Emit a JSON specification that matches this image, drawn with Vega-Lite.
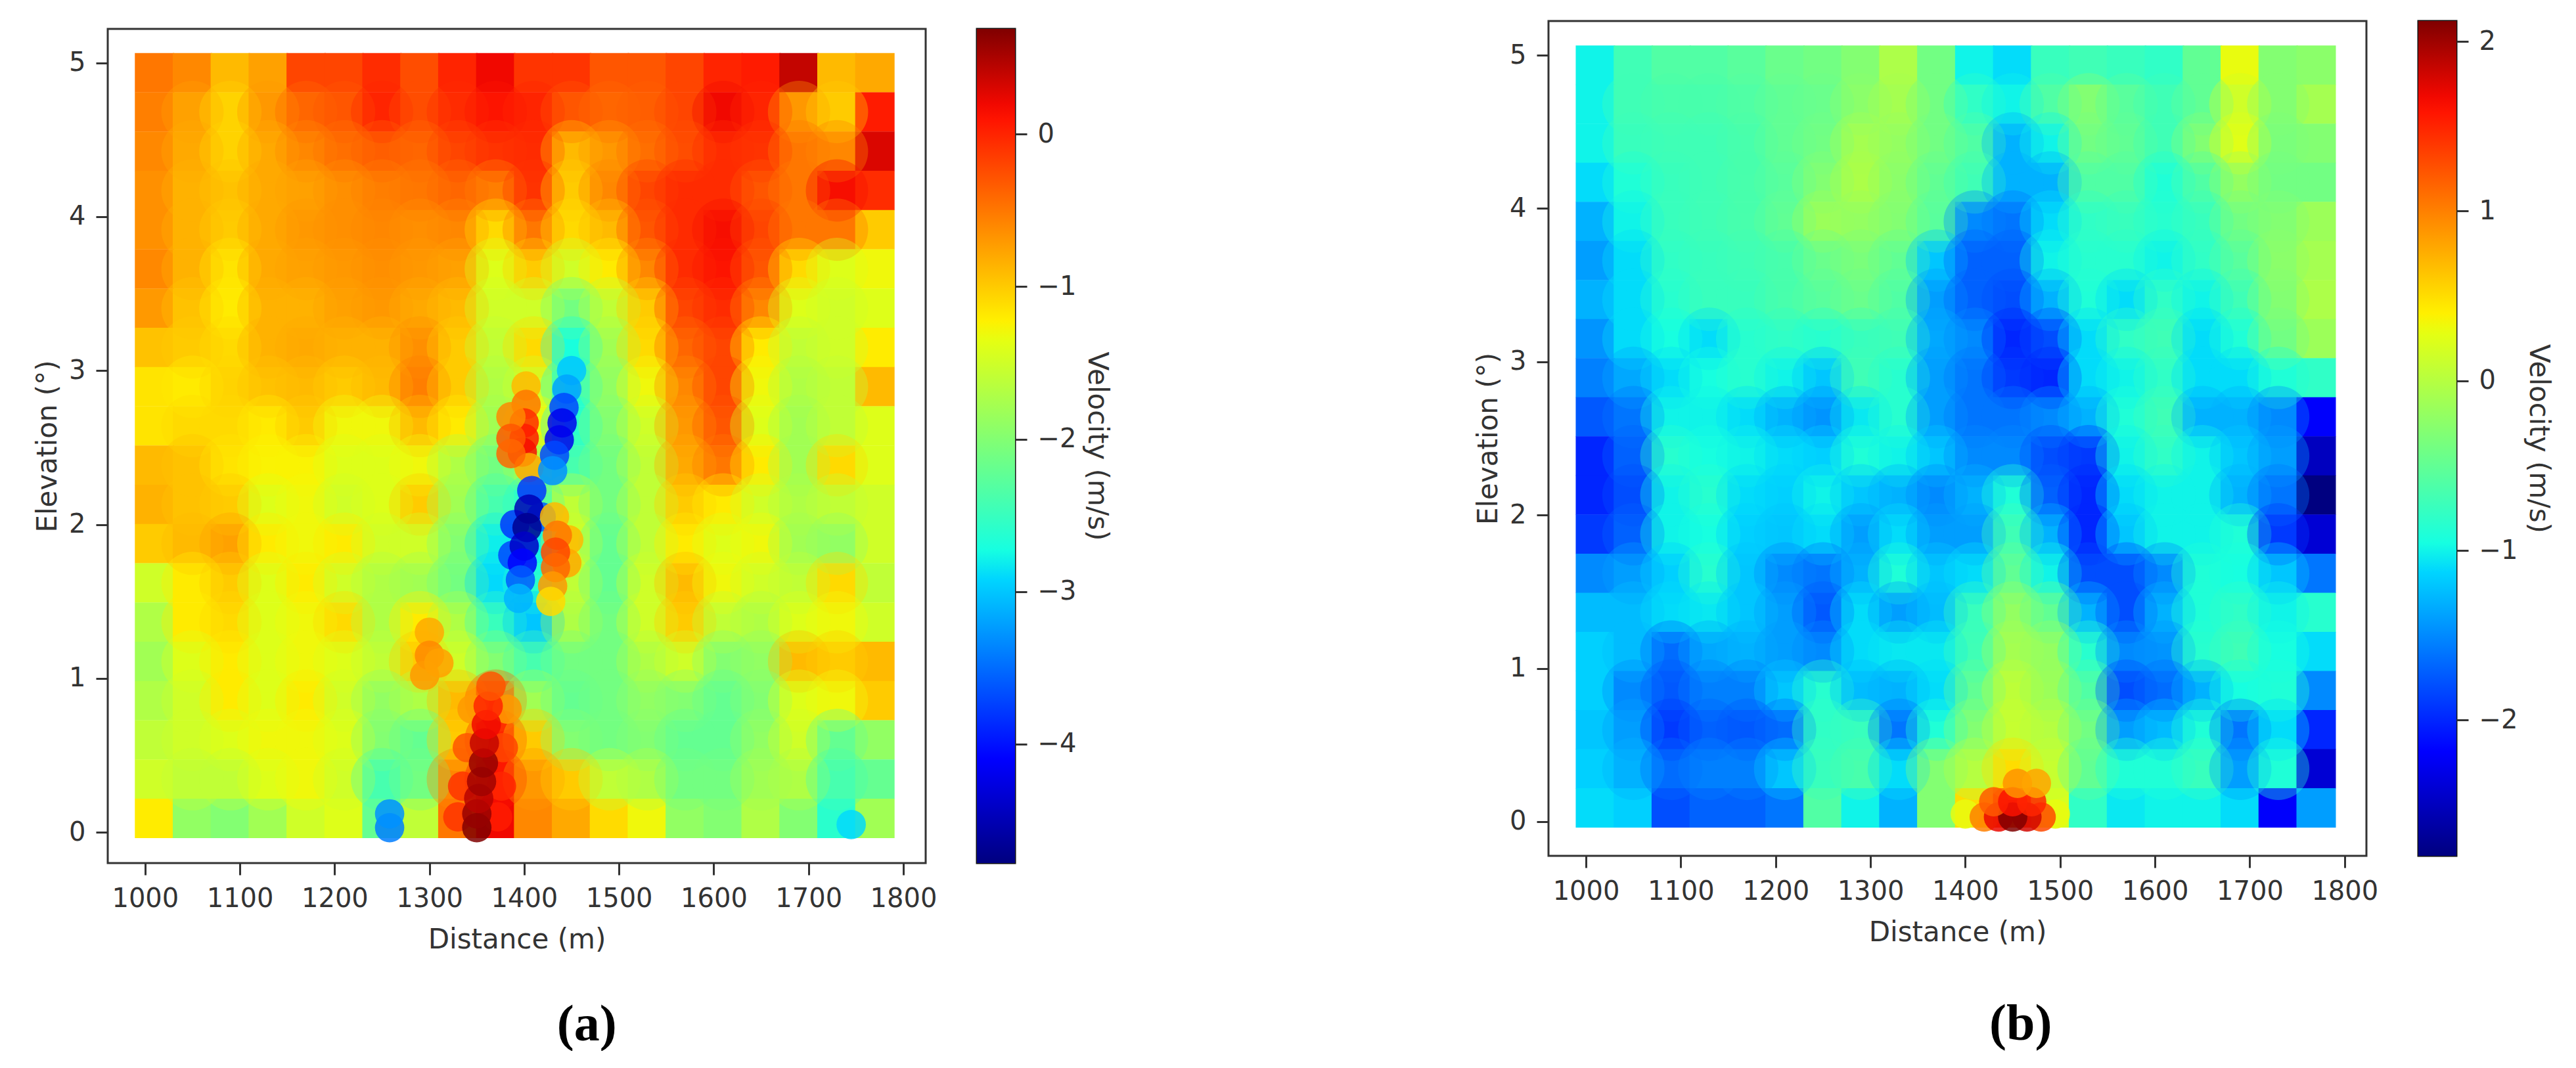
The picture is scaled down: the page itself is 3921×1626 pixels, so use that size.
{"$schema":"https://vega.github.io/schema/vega-lite/v6.json","background":"white","padding":{"left":50,"top":29,"right":0,"bottom":0},"autosize":{"type":"pad"},
"config":{"font":"DejaVu Sans","axis":{"grid":false,"domain":false,"tickColor":"#333333","tickWidth":3,"tickSize":18,"labelColor":"#333333","titleColor":"#333333","labelFontSize":40,"titleFontSize":42,"titleFontWeight":"normal","labelPadding":16,"labelFont":"DejaVu Sans","titleFont":"DejaVu Sans"},"view":{"stroke":"#333333","strokeWidth":3},"concat":{"spacing":57}},
"resolve":{"scale":{"color":"independent"}},
"datasets":{
"a":[
{"d":1010,"e":4.935,"v":-0.5},{"d":1050,"e":4.935,"v":-0.6},{"d":1090,"e":4.935,"v":-0.9},{"d":1130,"e":4.935,"v":-0.75},{"d":1170,"e":4.935,"v":-0.2},{"d":1210,"e":4.935,"v":-0.2},{"d":1250,"e":4.935,"v":-0.05},{"d":1290,"e":4.935,"v":-0.25},{"d":1330,"e":4.935,"v":0},{"d":1370,"e":4.935,"v":0.2},{"d":1410,"e":4.935,"v":-0.1},{"d":1450,"e":4.935,"v":-0.1},{"d":1490,"e":4.935,"v":-0.3},{"d":1530,"e":4.935,"v":-0.3},{"d":1570,"e":4.935,"v":-0.2},{"d":1610,"e":4.935,"v":0},{"d":1650,"e":4.935,"v":0.05},{"d":1690,"e":4.935,"v":0.4},{"d":1730,"e":4.935,"v":-0.9},{"d":1770,"e":4.935,"v":-0.8},
{"d":1010,"e":4.68,"v":-0.55},{"d":1050,"e":4.68,"v":-0.75},{"d":1090,"e":4.68,"v":-1.05},{"d":1130,"e":4.68,"v":-0.7},{"d":1170,"e":4.68,"v":-0.4},{"d":1210,"e":4.68,"v":-0.3},{"d":1250,"e":4.68,"v":0},{"d":1290,"e":4.68,"v":-0.25},{"d":1330,"e":4.68,"v":-0.05},{"d":1370,"e":4.68,"v":0.1},{"d":1410,"e":4.68,"v":0},{"d":1450,"e":4.68,"v":-0.3},{"d":1490,"e":4.68,"v":-0.4},{"d":1530,"e":4.68,"v":-0.35},{"d":1570,"e":4.68,"v":-0.2},{"d":1610,"e":4.68,"v":0.2},{"d":1650,"e":4.68,"v":0},{"d":1690,"e":4.68,"v":-0.7},{"d":1730,"e":4.68,"v":-1},{"d":1770,"e":4.68,"v":0.05},
{"d":1010,"e":4.425,"v":-0.6},{"d":1050,"e":4.425,"v":-0.8},{"d":1090,"e":4.425,"v":-1.05},{"d":1130,"e":4.425,"v":-0.8},{"d":1170,"e":4.425,"v":-0.6},{"d":1210,"e":4.425,"v":-0.45},{"d":1250,"e":4.425,"v":-0.35},{"d":1290,"e":4.425,"v":-0.4},{"d":1330,"e":4.425,"v":-0.2},{"d":1370,"e":4.425,"v":-0.1},{"d":1410,"e":4.425,"v":-0.05},{"d":1450,"e":4.425,"v":-0.9},{"d":1490,"e":4.425,"v":-0.7},{"d":1530,"e":4.425,"v":-0.45},{"d":1570,"e":4.425,"v":-0.25},{"d":1610,"e":4.425,"v":-0.05},{"d":1650,"e":4.425,"v":-0.1},{"d":1690,"e":4.425,"v":-0.5},{"d":1730,"e":4.425,"v":-0.6},{"d":1770,"e":4.425,"v":0.3},
{"d":1010,"e":4.17,"v":-0.65},{"d":1050,"e":4.17,"v":-0.85},{"d":1090,"e":4.17,"v":-0.95},{"d":1130,"e":4.17,"v":-0.8},{"d":1170,"e":4.17,"v":-0.75},{"d":1210,"e":4.17,"v":-0.65},{"d":1250,"e":4.17,"v":-0.55},{"d":1290,"e":4.17,"v":-0.5},{"d":1330,"e":4.17,"v":-0.4},{"d":1370,"e":4.17,"v":-0.55},{"d":1410,"e":4.17,"v":-0.1},{"d":1450,"e":4.17,"v":-1},{"d":1490,"e":4.17,"v":-0.6},{"d":1530,"e":4.17,"v":-0.2},{"d":1570,"e":4.17,"v":-0.05},{"d":1610,"e":4.17,"v":-0.05},{"d":1650,"e":4.17,"v":-0.3},{"d":1690,"e":4.17,"v":-0.5},{"d":1730,"e":4.17,"v":0.15},{"d":1770,"e":4.17,"v":-0.05},
{"d":1010,"e":3.915,"v":-0.65},{"d":1050,"e":3.915,"v":-0.85},{"d":1090,"e":3.915,"v":-1},{"d":1130,"e":3.915,"v":-0.8},{"d":1170,"e":3.915,"v":-0.7},{"d":1210,"e":3.915,"v":-0.65},{"d":1250,"e":3.915,"v":-0.6},{"d":1290,"e":3.915,"v":-0.65},{"d":1330,"e":3.915,"v":-0.6},{"d":1370,"e":3.915,"v":-1.1},{"d":1410,"e":3.915,"v":-0.5},{"d":1450,"e":3.915,"v":-1.1},{"d":1490,"e":3.915,"v":-0.9},{"d":1530,"e":3.915,"v":-0.3},{"d":1570,"e":3.915,"v":-0.05},{"d":1610,"e":3.915,"v":0.15},{"d":1650,"e":3.915,"v":-0.2},{"d":1690,"e":3.915,"v":-0.5},{"d":1730,"e":3.915,"v":-0.5},{"d":1770,"e":3.915,"v":-1},
{"d":1010,"e":3.66,"v":-0.6},{"d":1050,"e":3.66,"v":-0.85},{"d":1090,"e":3.66,"v":-1.15},{"d":1130,"e":3.66,"v":-0.8},{"d":1170,"e":3.66,"v":-0.75},{"d":1210,"e":3.66,"v":-0.7},{"d":1250,"e":3.66,"v":-0.65},{"d":1290,"e":3.66,"v":-0.7},{"d":1330,"e":3.66,"v":-0.75},{"d":1370,"e":3.66,"v":-1.4},{"d":1410,"e":3.66,"v":-1},{"d":1450,"e":3.66,"v":-1.5},{"d":1490,"e":3.66,"v":-1.2},{"d":1530,"e":3.66,"v":-0.6},{"d":1570,"e":3.66,"v":-0.05},{"d":1610,"e":3.66,"v":0.1},{"d":1650,"e":3.66,"v":-0.3},{"d":1690,"e":3.66,"v":-1.1},{"d":1730,"e":3.66,"v":-1.4},{"d":1770,"e":3.66,"v":-1.3},
{"d":1010,"e":3.405,"v":-0.7},{"d":1050,"e":3.405,"v":-0.95},{"d":1090,"e":3.405,"v":-1.2},{"d":1130,"e":3.405,"v":-0.85},{"d":1170,"e":3.405,"v":-0.85},{"d":1210,"e":3.405,"v":-0.75},{"d":1250,"e":3.405,"v":-0.7},{"d":1290,"e":3.405,"v":-0.8},{"d":1330,"e":3.405,"v":-0.9},{"d":1370,"e":3.405,"v":-1.5},{"d":1410,"e":3.405,"v":-1.5},{"d":1450,"e":3.405,"v":-2.1},{"d":1490,"e":3.405,"v":-1.6},{"d":1530,"e":3.405,"v":-1},{"d":1570,"e":3.405,"v":-0.2},{"d":1610,"e":3.405,"v":-0.05},{"d":1650,"e":3.405,"v":-0.6},{"d":1690,"e":3.405,"v":-1.4},{"d":1730,"e":3.405,"v":-1.5},{"d":1770,"e":3.405,"v":-1.4},
{"d":1010,"e":3.15,"v":-0.95},{"d":1050,"e":3.15,"v":-1},{"d":1090,"e":3.15,"v":-1.1},{"d":1130,"e":3.15,"v":-0.85},{"d":1170,"e":3.15,"v":-0.8},{"d":1210,"e":3.15,"v":-0.85},{"d":1250,"e":3.15,"v":-0.85},{"d":1290,"e":3.15,"v":-0.65},{"d":1330,"e":3.15,"v":-1},{"d":1370,"e":3.15,"v":-1.6},{"d":1410,"e":3.15,"v":-1.1},{"d":1450,"e":3.15,"v":-2.7},{"d":1490,"e":3.15,"v":-1.8},{"d":1530,"e":3.15,"v":-1.1},{"d":1570,"e":3.15,"v":-0.4},{"d":1610,"e":3.15,"v":-0.2},{"d":1650,"e":3.15,"v":-1.2},{"d":1690,"e":3.15,"v":-1.6},{"d":1730,"e":3.15,"v":-1.5},{"d":1770,"e":3.15,"v":-1.2},
{"d":1010,"e":2.895,"v":-1.15},{"d":1050,"e":2.895,"v":-1.2},{"d":1090,"e":2.895,"v":-1.05},{"d":1130,"e":2.895,"v":-0.95},{"d":1170,"e":2.895,"v":-0.9},{"d":1210,"e":2.895,"v":-1},{"d":1250,"e":2.895,"v":-0.9},{"d":1290,"e":2.895,"v":-0.55},{"d":1330,"e":2.895,"v":-1},{"d":1370,"e":2.895,"v":-1.7},{"d":1410,"e":2.895,"v":-1.5},{"d":1450,"e":2.895,"v":-2.6},{"d":1490,"e":2.895,"v":-1.9},{"d":1530,"e":2.895,"v":-1.3},{"d":1570,"e":2.895,"v":-0.6},{"d":1610,"e":2.895,"v":-0.2},{"d":1650,"e":2.895,"v":-1.3},{"d":1690,"e":2.895,"v":-1.7},{"d":1730,"e":2.895,"v":-1.6},{"d":1770,"e":2.895,"v":-0.9},
{"d":1010,"e":2.64,"v":-1.15},{"d":1050,"e":2.64,"v":-1.1},{"d":1090,"e":2.64,"v":-1.1},{"d":1130,"e":2.64,"v":-1.2},{"d":1170,"e":2.64,"v":-1},{"d":1210,"e":2.64,"v":-1.3},{"d":1250,"e":2.64,"v":-1.3},{"d":1290,"e":2.64,"v":-0.9},{"d":1330,"e":2.64,"v":-1.2},{"d":1370,"e":2.64,"v":-1.8},{"d":1410,"e":2.64,"v":-1.3},{"d":1450,"e":2.64,"v":-2.6},{"d":1490,"e":2.64,"v":-2},{"d":1530,"e":2.64,"v":-1.5},{"d":1570,"e":2.64,"v":-0.7},{"d":1610,"e":2.64,"v":-0.3},{"d":1650,"e":2.64,"v":-1.4},{"d":1690,"e":2.64,"v":-1.8},{"d":1730,"e":2.64,"v":-1.6},{"d":1770,"e":2.64,"v":-1.4},
{"d":1010,"e":2.385,"v":-0.9},{"d":1050,"e":2.385,"v":-0.95},{"d":1090,"e":2.385,"v":-1.15},{"d":1130,"e":2.385,"v":-1.25},{"d":1170,"e":2.385,"v":-1.25},{"d":1210,"e":2.385,"v":-1.4},{"d":1250,"e":2.385,"v":-1.4},{"d":1290,"e":2.385,"v":-1.3},{"d":1330,"e":2.385,"v":-1.7},{"d":1370,"e":2.385,"v":-2.1},{"d":1410,"e":2.385,"v":-1.8},{"d":1450,"e":2.385,"v":-2.4},{"d":1490,"e":2.385,"v":-2.1},{"d":1530,"e":2.385,"v":-1.6},{"d":1570,"e":2.385,"v":-0.8},{"d":1610,"e":2.385,"v":-0.5},{"d":1650,"e":2.385,"v":-1.2},{"d":1690,"e":2.385,"v":-1.8},{"d":1730,"e":2.385,"v":-1.1},{"d":1770,"e":2.385,"v":-1.4},
{"d":1010,"e":2.13,"v":-0.85},{"d":1050,"e":2.13,"v":-0.95},{"d":1090,"e":2.13,"v":-1},{"d":1130,"e":2.13,"v":-1.4},{"d":1170,"e":2.13,"v":-1.3},{"d":1210,"e":2.13,"v":-1.5},{"d":1250,"e":2.13,"v":-1.4},{"d":1290,"e":2.13,"v":-1},{"d":1330,"e":2.13,"v":-1.8},{"d":1370,"e":2.13,"v":-2.4},{"d":1410,"e":2.13,"v":-2.6},{"d":1450,"e":2.13,"v":-1.6},{"d":1490,"e":2.13,"v":-2.1},{"d":1530,"e":2.13,"v":-1.6},{"d":1570,"e":2.13,"v":-1},{"d":1610,"e":2.13,"v":-1.2},{"d":1650,"e":2.13,"v":-1.5},{"d":1690,"e":2.13,"v":-1.7},{"d":1730,"e":2.13,"v":-1.6},{"d":1770,"e":2.13,"v":-1.5},
{"d":1010,"e":1.875,"v":-1},{"d":1050,"e":1.875,"v":-0.9},{"d":1090,"e":1.875,"v":-0.75},{"d":1130,"e":1.875,"v":-1.2},{"d":1170,"e":1.875,"v":-1.3},{"d":1210,"e":1.875,"v":-1.2},{"d":1250,"e":1.875,"v":-1.5},{"d":1290,"e":1.875,"v":-1.5},{"d":1330,"e":1.875,"v":-2},{"d":1370,"e":1.875,"v":-2.8},{"d":1410,"e":1.875,"v":-2.8},{"d":1450,"e":1.875,"v":-1.5},{"d":1490,"e":1.875,"v":-2.2},{"d":1530,"e":1.875,"v":-1.6},{"d":1570,"e":1.875,"v":-1.2},{"d":1610,"e":1.875,"v":-1.4},{"d":1650,"e":1.875,"v":-1.3},{"d":1690,"e":1.875,"v":-1.8},{"d":1730,"e":1.875,"v":-1.9},{"d":1770,"e":1.875,"v":-1.5},
{"d":1010,"e":1.62,"v":-1.5},{"d":1050,"e":1.62,"v":-1.2},{"d":1090,"e":1.62,"v":-1},{"d":1130,"e":1.62,"v":-1.4},{"d":1170,"e":1.62,"v":-1.2},{"d":1210,"e":1.62,"v":-1.5},{"d":1250,"e":1.62,"v":-1.7},{"d":1290,"e":1.62,"v":-1.8},{"d":1330,"e":1.62,"v":-2.1},{"d":1370,"e":1.62,"v":-2.9},{"d":1410,"e":1.62,"v":-2.6},{"d":1450,"e":1.62,"v":-1.6},{"d":1490,"e":1.62,"v":-2.2},{"d":1530,"e":1.62,"v":-1.5},{"d":1570,"e":1.62,"v":-0.9},{"d":1610,"e":1.62,"v":-1.3},{"d":1650,"e":1.62,"v":-1.5},{"d":1690,"e":1.62,"v":-1.6},{"d":1730,"e":1.62,"v":-1.1},{"d":1770,"e":1.62,"v":-1.6},
{"d":1010,"e":1.365,"v":-1.7},{"d":1050,"e":1.365,"v":-1.2},{"d":1090,"e":1.365,"v":-1.1},{"d":1130,"e":1.365,"v":-1.4},{"d":1170,"e":1.365,"v":-1.3},{"d":1210,"e":1.365,"v":-1.1},{"d":1250,"e":1.365,"v":-1.7},{"d":1290,"e":1.365,"v":-1.2},{"d":1330,"e":1.365,"v":-1.7},{"d":1370,"e":1.365,"v":-2.5},{"d":1410,"e":1.365,"v":-3},{"d":1450,"e":1.365,"v":-1.7},{"d":1490,"e":1.365,"v":-2.1},{"d":1530,"e":1.365,"v":-1.5},{"d":1570,"e":1.365,"v":-1},{"d":1610,"e":1.365,"v":-1.6},{"d":1650,"e":1.365,"v":-1.7},{"d":1690,"e":1.365,"v":-1.4},{"d":1730,"e":1.365,"v":-1.3},{"d":1770,"e":1.365,"v":-1.5},
{"d":1010,"e":1.11,"v":-1.8},{"d":1050,"e":1.11,"v":-1.4},{"d":1090,"e":1.11,"v":-1.2},{"d":1130,"e":1.11,"v":-1.4},{"d":1170,"e":1.11,"v":-1.3},{"d":1210,"e":1.11,"v":-1.4},{"d":1250,"e":1.11,"v":-1.6},{"d":1290,"e":1.11,"v":-1},{"d":1330,"e":1.11,"v":-1.5},{"d":1370,"e":1.11,"v":-2},{"d":1410,"e":1.11,"v":-2.4},{"d":1450,"e":1.11,"v":-2.1},{"d":1490,"e":1.11,"v":-2.1},{"d":1530,"e":1.11,"v":-1.7},{"d":1570,"e":1.11,"v":-1.5},{"d":1610,"e":1.11,"v":-2},{"d":1650,"e":1.11,"v":-1.9},{"d":1690,"e":1.11,"v":-0.9},{"d":1730,"e":1.11,"v":-1},{"d":1770,"e":1.11,"v":-0.9},
{"d":1010,"e":0.855,"v":-1.7},{"d":1050,"e":0.855,"v":-1.5},{"d":1090,"e":0.855,"v":-1.2},{"d":1130,"e":0.855,"v":-1.4},{"d":1170,"e":0.855,"v":-1.2},{"d":1210,"e":0.855,"v":-1.5},{"d":1250,"e":0.855,"v":-1.9},{"d":1290,"e":0.855,"v":-1.7},{"d":1330,"e":0.855,"v":-0.9},{"d":1370,"e":0.855,"v":-0.3},{"d":1410,"e":0.855,"v":-1.8},{"d":1450,"e":0.855,"v":-2.2},{"d":1490,"e":0.855,"v":-2.1},{"d":1530,"e":0.855,"v":-1.9},{"d":1570,"e":0.855,"v":-2},{"d":1610,"e":0.855,"v":-2.2},{"d":1650,"e":0.855,"v":-2},{"d":1690,"e":0.855,"v":-1.4},{"d":1730,"e":0.855,"v":-1.3},{"d":1770,"e":0.855,"v":-1},
{"d":1010,"e":0.6,"v":-1.6},{"d":1050,"e":0.6,"v":-1.5},{"d":1090,"e":0.6,"v":-1.4},{"d":1130,"e":0.6,"v":-1.3},{"d":1170,"e":0.6,"v":-1.3},{"d":1210,"e":0.6,"v":-1.4},{"d":1250,"e":0.6,"v":-2},{"d":1290,"e":0.6,"v":-2.2},{"d":1330,"e":0.6,"v":-1},{"d":1370,"e":0.6,"v":0},{"d":1410,"e":0.6,"v":-1},{"d":1450,"e":0.6,"v":-2},{"d":1490,"e":0.6,"v":-2.1},{"d":1530,"e":0.6,"v":-2},{"d":1570,"e":0.6,"v":-2.2},{"d":1610,"e":0.6,"v":-2.2},{"d":1650,"e":0.6,"v":-1.9},{"d":1690,"e":0.6,"v":-1.5},{"d":1730,"e":0.6,"v":-2.2},{"d":1770,"e":0.6,"v":-1.9},
{"d":1010,"e":0.345,"v":-1.5},{"d":1050,"e":0.345,"v":-1.6},{"d":1090,"e":0.345,"v":-1.6},{"d":1130,"e":0.345,"v":-1.4},{"d":1170,"e":0.345,"v":-1.3},{"d":1210,"e":0.345,"v":-1.5},{"d":1250,"e":0.345,"v":-2.4},{"d":1290,"e":0.345,"v":-2.1},{"d":1330,"e":0.345,"v":-0.6},{"d":1370,"e":0.345,"v":0.1},{"d":1410,"e":0.345,"v":-0.7},{"d":1450,"e":0.345,"v":-1},{"d":1490,"e":0.345,"v":-1.6},{"d":1530,"e":0.345,"v":-1.7},{"d":1570,"e":0.345,"v":-2.1},{"d":1610,"e":0.345,"v":-2.1},{"d":1650,"e":0.345,"v":-1.8},{"d":1690,"e":0.345,"v":-1.7},{"d":1730,"e":0.345,"v":-2.4},{"d":1770,"e":0.345,"v":-2.2},
{"d":1010,"e":0.09,"v":-1.2},{"d":1050,"e":0.09,"v":-1.9},{"d":1090,"e":0.09,"v":-2},{"d":1130,"e":0.09,"v":-1.8},{"d":1170,"e":0.09,"v":-1.5},{"d":1210,"e":0.09,"v":-1.4},{"d":1250,"e":0.09,"v":-2.2},{"d":1290,"e":0.09,"v":-1.6},{"d":1330,"e":0.09,"v":-0.5},{"d":1370,"e":0.09,"v":0.2},{"d":1410,"e":0.09,"v":-0.6},{"d":1450,"e":0.09,"v":-0.8},{"d":1490,"e":0.09,"v":-1.1},{"d":1530,"e":0.09,"v":-1.3},{"d":1570,"e":0.09,"v":-1.9},{"d":1610,"e":0.09,"v":-2},{"d":1650,"e":0.09,"v":-1.7},{"d":1690,"e":0.09,"v":-2},{"d":1730,"e":0.09,"v":-2.6},{"d":1770,"e":0.09,"v":-1.8}
],
"a2":[
{"d":1402,"e":2.9,"v":-0.9},{"d":1402,"e":2.78,"v":-0.5},{"d":1400,"e":2.66,"v":-0.05},{"d":1400,"e":2.56,"v":0.05},{"d":1398,"e":2.47,"v":0.15},{"d":1405,"e":2.37,"v":-0.8},{"d":1386,"e":2.7,"v":-0.6},{"d":1386,"e":2.56,"v":-0.3},{"d":1386,"e":2.46,"v":-0.4},
{"d":1450,"e":3,"v":-3},{"d":1445,"e":2.88,"v":-3.2},{"d":1442,"e":2.76,"v":-3.7},{"d":1440,"e":2.66,"v":-4.2},{"d":1437,"e":2.55,"v":-4.2},{"d":1432,"e":2.45,"v":-3.7},{"d":1430,"e":2.35,"v":-3.3},
{"d":1408,"e":2.22,"v":-3.8},{"d":1390,"e":2,"v":-3.8},{"d":1388,"e":1.8,"v":-3.7},{"d":1418,"e":2.05,"v":-3.6},{"d":1405,"e":2.1,"v":-4.5},{"d":1403,"e":1.98,"v":-4.7},{"d":1400,"e":1.86,"v":-4.4},{"d":1398,"e":1.75,"v":-4.1},{"d":1396,"e":1.64,"v":-3.6},{"d":1394,"e":1.52,"v":-3.1},
{"d":1447,"e":1.9,"v":-0.9},{"d":1445,"e":1.75,"v":-0.8},{"d":1432,"e":2.05,"v":-0.9},{"d":1435,"e":1.93,"v":-0.5},{"d":1433,"e":1.82,"v":-0.2},{"d":1433,"e":1.72,"v":-0.4},{"d":1430,"e":1.6,"v":-0.7},{"d":1428,"e":1.5,"v":-1.1},
{"d":1330,"e":0.1,"v":-0.1},{"d":1335,"e":0.3,"v":-0.1},{"d":1340,"e":0.55,"v":-0.3},{"d":1345,"e":0.8,"v":-0.7},{"d":1372,"e":0.1,"v":0.05},{"d":1376,"e":0.3,"v":0},{"d":1378,"e":0.55,"v":-0.2},{"d":1382,"e":0.8,"v":-0.7},
{"d":1350,"e":0.03,"v":0.69},{"d":1350,"e":0.12,"v":0.6},{"d":1352,"e":0.22,"v":0.45},{"d":1355,"e":0.33,"v":0.55},{"d":1357,"e":0.45,"v":0.6},{"d":1358,"e":0.58,"v":0.4},{"d":1360,"e":0.7,"v":0.2},{"d":1362,"e":0.82,"v":0},{"d":1365,"e":0.95,"v":-0.3},
{"d":1258,"e":0.03,"v":-3.4},{"d":1258,"e":0.12,"v":-3.3},{"d":1745,"e":0.05,"v":-2.9},{"d":1300,"e":1.3,"v":-0.8},{"d":1300,"e":1.15,"v":-0.6},{"d":1295,"e":1.02,"v":-0.7},{"d":1310,"e":1.1,"v":-0.75}
],
"b":[
{"d":1010,"e":4.935,"v":-1},{"d":1050,"e":4.935,"v":-0.7},{"d":1090,"e":4.935,"v":-0.6},{"d":1130,"e":4.935,"v":-0.6},{"d":1170,"e":4.935,"v":-0.55},{"d":1210,"e":4.935,"v":-0.45},{"d":1250,"e":4.935,"v":-0.4},{"d":1290,"e":4.935,"v":-0.3},{"d":1330,"e":4.935,"v":-0.05},{"d":1370,"e":4.935,"v":-0.4},{"d":1410,"e":4.935,"v":-1},{"d":1450,"e":4.935,"v":-1.1},{"d":1490,"e":4.935,"v":-0.75},{"d":1530,"e":4.935,"v":-0.7},{"d":1570,"e":4.935,"v":-0.75},{"d":1610,"e":4.935,"v":-0.8},{"d":1650,"e":4.935,"v":-0.5},{"d":1690,"e":4.935,"v":0.3},{"d":1730,"e":4.935,"v":-0.3},{"d":1770,"e":4.935,"v":-0.25},
{"d":1010,"e":4.68,"v":-1},{"d":1050,"e":4.68,"v":-0.7},{"d":1090,"e":4.68,"v":-0.65},{"d":1130,"e":4.68,"v":-0.65},{"d":1170,"e":4.68,"v":-0.6},{"d":1210,"e":4.68,"v":-0.5},{"d":1250,"e":4.68,"v":-0.45},{"d":1290,"e":4.68,"v":-0.25},{"d":1330,"e":4.68,"v":-0.1},{"d":1370,"e":4.68,"v":-0.4},{"d":1410,"e":4.68,"v":-0.8},{"d":1450,"e":4.68,"v":-1},{"d":1490,"e":4.68,"v":-0.6},{"d":1530,"e":4.68,"v":-0.3},{"d":1570,"e":4.68,"v":-0.55},{"d":1610,"e":4.68,"v":-0.7},{"d":1650,"e":4.68,"v":-0.5},{"d":1690,"e":4.68,"v":0.15},{"d":1730,"e":4.68,"v":-0.3},{"d":1770,"e":4.68,"v":-0.1},
{"d":1010,"e":4.425,"v":-1},{"d":1050,"e":4.425,"v":-0.75},{"d":1090,"e":4.425,"v":-0.7},{"d":1130,"e":4.425,"v":-0.7},{"d":1170,"e":4.425,"v":-0.65},{"d":1210,"e":4.425,"v":-0.5},{"d":1250,"e":4.425,"v":-0.4},{"d":1290,"e":4.425,"v":-0.1},{"d":1330,"e":4.425,"v":-0.2},{"d":1370,"e":4.425,"v":-0.4},{"d":1410,"e":4.425,"v":-0.6},{"d":1450,"e":4.425,"v":-1.3},{"d":1490,"e":4.425,"v":-1},{"d":1530,"e":4.425,"v":-0.4},{"d":1570,"e":4.425,"v":-0.5},{"d":1610,"e":4.425,"v":-0.7},{"d":1650,"e":4.425,"v":-0.3},{"d":1690,"e":4.425,"v":0.25},{"d":1730,"e":4.425,"v":-0.35},{"d":1770,"e":4.425,"v":-0.3},
{"d":1010,"e":4.17,"v":-1.1},{"d":1050,"e":4.17,"v":-0.9},{"d":1090,"e":4.17,"v":-0.75},{"d":1130,"e":4.17,"v":-0.7},{"d":1170,"e":4.17,"v":-0.65},{"d":1210,"e":4.17,"v":-0.55},{"d":1250,"e":4.17,"v":-0.3},{"d":1290,"e":4.17,"v":-0.05},{"d":1330,"e":4.17,"v":-0.25},{"d":1370,"e":4.17,"v":-0.5},{"d":1410,"e":4.17,"v":-0.7},{"d":1450,"e":4.17,"v":-1.3},{"d":1490,"e":4.17,"v":-1.3},{"d":1530,"e":4.17,"v":-0.6},{"d":1570,"e":4.17,"v":-0.6},{"d":1610,"e":4.17,"v":-0.9},{"d":1650,"e":4.17,"v":-0.6},{"d":1690,"e":4.17,"v":-0.2},{"d":1730,"e":4.17,"v":-0.4},{"d":1770,"e":4.17,"v":-0.4},
{"d":1010,"e":3.915,"v":-1.3},{"d":1050,"e":3.915,"v":-1},{"d":1090,"e":3.915,"v":-0.75},{"d":1130,"e":3.915,"v":-0.7},{"d":1170,"e":3.915,"v":-0.65},{"d":1210,"e":3.915,"v":-0.5},{"d":1250,"e":3.915,"v":-0.15},{"d":1290,"e":3.915,"v":-0.2},{"d":1330,"e":3.915,"v":-0.3},{"d":1370,"e":3.915,"v":-0.55},{"d":1410,"e":3.915,"v":-1.5},{"d":1450,"e":3.915,"v":-1.6},{"d":1490,"e":3.915,"v":-1.1},{"d":1530,"e":3.915,"v":-0.8},{"d":1570,"e":3.915,"v":-0.75},{"d":1610,"e":3.915,"v":-0.85},{"d":1650,"e":3.915,"v":-0.75},{"d":1690,"e":3.915,"v":-0.4},{"d":1730,"e":3.915,"v":-0.3},{"d":1770,"e":3.915,"v":-0.15},
{"d":1010,"e":3.66,"v":-1.4},{"d":1050,"e":3.66,"v":-1.1},{"d":1090,"e":3.66,"v":-0.8},{"d":1130,"e":3.66,"v":-0.75},{"d":1170,"e":3.66,"v":-0.7},{"d":1210,"e":3.66,"v":-0.65},{"d":1250,"e":3.66,"v":-0.45},{"d":1290,"e":3.66,"v":-0.35},{"d":1330,"e":3.66,"v":-0.5},{"d":1370,"e":3.66,"v":-1.2},{"d":1410,"e":3.66,"v":-1.7},{"d":1450,"e":3.66,"v":-1.7},{"d":1490,"e":3.66,"v":-1},{"d":1530,"e":3.66,"v":-0.85},{"d":1570,"e":3.66,"v":-0.85},{"d":1610,"e":3.66,"v":-1},{"d":1650,"e":3.66,"v":-0.8},{"d":1690,"e":3.66,"v":-0.55},{"d":1730,"e":3.66,"v":-0.25},{"d":1770,"e":3.66,"v":-0.1},
{"d":1010,"e":3.405,"v":-1.3},{"d":1050,"e":3.405,"v":-1.1},{"d":1090,"e":3.405,"v":-0.85},{"d":1130,"e":3.405,"v":-0.75},{"d":1170,"e":3.405,"v":-0.75},{"d":1210,"e":3.405,"v":-0.65},{"d":1250,"e":3.405,"v":-0.55},{"d":1290,"e":3.405,"v":-0.45},{"d":1330,"e":3.405,"v":-0.6},{"d":1370,"e":3.405,"v":-1.4},{"d":1410,"e":3.405,"v":-1.7},{"d":1450,"e":3.405,"v":-1.8},{"d":1490,"e":3.405,"v":-1.3},{"d":1530,"e":3.405,"v":-0.9},{"d":1570,"e":3.405,"v":-1.1},{"d":1610,"e":3.405,"v":-0.8},{"d":1650,"e":3.405,"v":-1},{"d":1690,"e":3.405,"v":-0.7},{"d":1730,"e":3.405,"v":-0.3},{"d":1770,"e":3.405,"v":-0.05},
{"d":1010,"e":3.15,"v":-1.45},{"d":1050,"e":3.15,"v":-1.1},{"d":1090,"e":3.15,"v":-0.95},{"d":1130,"e":3.15,"v":-1.1},{"d":1170,"e":3.15,"v":-0.85},{"d":1210,"e":3.15,"v":-0.8},{"d":1250,"e":3.15,"v":-0.85},{"d":1290,"e":3.15,"v":-0.75},{"d":1330,"e":3.15,"v":-0.7},{"d":1370,"e":3.15,"v":-1.35},{"d":1410,"e":3.15,"v":-1.5},{"d":1450,"e":3.15,"v":-2},{"d":1490,"e":3.15,"v":-1.8},{"d":1530,"e":3.15,"v":-1.1},{"d":1570,"e":3.15,"v":-0.8},{"d":1610,"e":3.15,"v":-0.7},{"d":1650,"e":3.15,"v":-1.1},{"d":1690,"e":3.15,"v":-0.9},{"d":1730,"e":3.15,"v":-0.4},{"d":1770,"e":3.15,"v":-0.15},
{"d":1010,"e":2.895,"v":-1.55},{"d":1050,"e":2.895,"v":-1.35},{"d":1090,"e":2.895,"v":-1.1},{"d":1130,"e":2.895,"v":-0.95},{"d":1170,"e":2.895,"v":-0.85},{"d":1210,"e":2.895,"v":-1},{"d":1250,"e":2.895,"v":-1.2},{"d":1290,"e":2.895,"v":-0.7},{"d":1330,"e":2.895,"v":-0.85},{"d":1370,"e":2.895,"v":-1.4},{"d":1410,"e":2.895,"v":-1.6},{"d":1450,"e":2.895,"v":-1.9},{"d":1490,"e":2.895,"v":-2},{"d":1530,"e":2.895,"v":-1.1},{"d":1570,"e":2.895,"v":-1},{"d":1610,"e":2.895,"v":-0.8},{"d":1650,"e":2.895,"v":-1.1},{"d":1690,"e":2.895,"v":-1.1},{"d":1730,"e":2.895,"v":-0.9},{"d":1770,"e":2.895,"v":-0.8},
{"d":1010,"e":2.64,"v":-1.75},{"d":1050,"e":2.64,"v":-1.6},{"d":1090,"e":2.64,"v":-1},{"d":1130,"e":2.64,"v":-1},{"d":1170,"e":2.64,"v":-1.1},{"d":1210,"e":2.64,"v":-1.3},{"d":1250,"e":2.64,"v":-1.45},{"d":1290,"e":2.64,"v":-1.05},{"d":1330,"e":2.64,"v":-0.85},{"d":1370,"e":2.64,"v":-1.4},{"d":1410,"e":2.64,"v":-1.6},{"d":1450,"e":2.64,"v":-1.6},{"d":1490,"e":2.64,"v":-1.5},{"d":1530,"e":2.64,"v":-1.3},{"d":1570,"e":2.64,"v":-0.9},{"d":1610,"e":2.64,"v":-0.7},{"d":1650,"e":2.64,"v":-1.3},{"d":1690,"e":2.64,"v":-1.3},{"d":1730,"e":2.64,"v":-1.5},{"d":1770,"e":2.64,"v":-2.2},
{"d":1010,"e":2.385,"v":-2},{"d":1050,"e":2.385,"v":-1.7},{"d":1090,"e":2.385,"v":-0.85},{"d":1130,"e":2.385,"v":-0.95},{"d":1170,"e":2.385,"v":-1},{"d":1210,"e":2.385,"v":-1.1},{"d":1250,"e":2.385,"v":-1.15},{"d":1290,"e":2.385,"v":-0.9},{"d":1330,"e":2.385,"v":-1},{"d":1370,"e":2.385,"v":-1.2},{"d":1410,"e":2.385,"v":-1.5},{"d":1450,"e":2.385,"v":-1.5},{"d":1490,"e":2.385,"v":-1.8},{"d":1530,"e":2.385,"v":-1.9},{"d":1570,"e":2.385,"v":-1},{"d":1610,"e":2.385,"v":-0.8},{"d":1650,"e":2.385,"v":-1},{"d":1690,"e":2.385,"v":-1.2},{"d":1730,"e":2.385,"v":-1.4},{"d":1770,"e":2.385,"v":-2.5},
{"d":1010,"e":2.13,"v":-2},{"d":1050,"e":2.13,"v":-1.8},{"d":1090,"e":2.13,"v":-1},{"d":1130,"e":2.13,"v":-0.85},{"d":1170,"e":2.13,"v":-1.1},{"d":1210,"e":2.13,"v":-1.15},{"d":1250,"e":2.13,"v":-1},{"d":1290,"e":2.13,"v":-1.2},{"d":1330,"e":2.13,"v":-1.3},{"d":1370,"e":2.13,"v":-1.5},{"d":1410,"e":2.13,"v":-1.3},{"d":1450,"e":2.13,"v":-0.9},{"d":1490,"e":2.13,"v":-1.7},{"d":1530,"e":2.13,"v":-2},{"d":1570,"e":2.13,"v":-1.1},{"d":1610,"e":2.13,"v":-1},{"d":1650,"e":2.13,"v":-1},{"d":1690,"e":2.13,"v":-1.3},{"d":1730,"e":2.13,"v":-1.6},{"d":1770,"e":2.13,"v":-2.8},
{"d":1010,"e":1.875,"v":-1.9},{"d":1050,"e":1.875,"v":-1.7},{"d":1090,"e":1.875,"v":-1},{"d":1130,"e":1.875,"v":-0.95},{"d":1170,"e":1.875,"v":-1.15},{"d":1210,"e":1.875,"v":-1.2},{"d":1250,"e":1.875,"v":-1.1},{"d":1290,"e":1.875,"v":-1.4},{"d":1330,"e":1.875,"v":-1.1},{"d":1370,"e":1.875,"v":-1.4},{"d":1410,"e":1.875,"v":-1.4},{"d":1450,"e":1.875,"v":-0.7},{"d":1490,"e":1.875,"v":-1.3},{"d":1530,"e":1.875,"v":-2},{"d":1570,"e":1.875,"v":-1.2},{"d":1610,"e":1.875,"v":-1},{"d":1650,"e":1.875,"v":-1},{"d":1690,"e":1.875,"v":-0.9},{"d":1730,"e":1.875,"v":-1.9},{"d":1770,"e":1.875,"v":-2.4},
{"d":1010,"e":1.62,"v":-1.5},{"d":1050,"e":1.62,"v":-1.4},{"d":1090,"e":1.62,"v":-1.15},{"d":1130,"e":1.62,"v":-0.85},{"d":1170,"e":1.62,"v":-1.2},{"d":1210,"e":1.62,"v":-1.5},{"d":1250,"e":1.62,"v":-1.6},{"d":1290,"e":1.62,"v":-1.3},{"d":1330,"e":1.62,"v":-0.9},{"d":1370,"e":1.62,"v":-1.2},{"d":1410,"e":1.62,"v":-1.1},{"d":1450,"e":1.62,"v":-0.5},{"d":1490,"e":1.62,"v":-1},{"d":1530,"e":1.62,"v":-1.8},{"d":1570,"e":1.62,"v":-1.8},{"d":1610,"e":1.62,"v":-1.5},{"d":1650,"e":1.62,"v":-0.9},{"d":1690,"e":1.62,"v":-0.95},{"d":1730,"e":1.62,"v":-1.2},{"d":1770,"e":1.62,"v":-1.6},
{"d":1010,"e":1.365,"v":-1.25},{"d":1050,"e":1.365,"v":-1.25},{"d":1090,"e":1.365,"v":-1.1},{"d":1130,"e":1.365,"v":-1.05},{"d":1170,"e":1.365,"v":-1.2},{"d":1210,"e":1.365,"v":-1.4},{"d":1250,"e":1.365,"v":-1.75},{"d":1290,"e":1.365,"v":-1.1},{"d":1330,"e":1.365,"v":-1.4},{"d":1370,"e":1.365,"v":-1.25},{"d":1410,"e":1.365,"v":-0.75},{"d":1450,"e":1.365,"v":-0.2},{"d":1490,"e":1.365,"v":-0.5},{"d":1530,"e":1.365,"v":-1.3},{"d":1570,"e":1.365,"v":-1.8},{"d":1610,"e":1.365,"v":-1.3},{"d":1650,"e":1.365,"v":-0.9},{"d":1690,"e":1.365,"v":-0.8},{"d":1730,"e":1.365,"v":-1},{"d":1770,"e":1.365,"v":-0.85},
{"d":1010,"e":1.11,"v":-1.15},{"d":1050,"e":1.11,"v":-1.25},{"d":1090,"e":1.11,"v":-1.65},{"d":1130,"e":1.11,"v":-1.35},{"d":1170,"e":1.11,"v":-1.3},{"d":1210,"e":1.11,"v":-1.4},{"d":1250,"e":1.11,"v":-1.5},{"d":1290,"e":1.11,"v":-1.1},{"d":1330,"e":1.11,"v":-1.05},{"d":1370,"e":1.11,"v":-1.05},{"d":1410,"e":1.11,"v":-0.7},{"d":1450,"e":1.11,"v":-0.1},{"d":1490,"e":1.11,"v":-0.2},{"d":1530,"e":1.11,"v":-0.85},{"d":1570,"e":1.11,"v":-1.5},{"d":1610,"e":1.11,"v":-1.45},{"d":1650,"e":1.11,"v":-0.85},{"d":1690,"e":1.11,"v":-0.7},{"d":1730,"e":1.11,"v":-0.95},{"d":1770,"e":1.11,"v":-1.1},
{"d":1010,"e":0.855,"v":-1.15},{"d":1050,"e":0.855,"v":-1.5},{"d":1090,"e":0.855,"v":-1.75},{"d":1130,"e":0.855,"v":-1.55},{"d":1170,"e":0.855,"v":-1.55},{"d":1210,"e":0.855,"v":-1.2},{"d":1250,"e":0.855,"v":-0.85},{"d":1290,"e":0.855,"v":-1.25},{"d":1330,"e":0.855,"v":-1.3},{"d":1370,"e":0.855,"v":-1.1},{"d":1410,"e":0.855,"v":-0.5},{"d":1450,"e":0.855,"v":0.05},{"d":1490,"e":0.855,"v":-0.15},{"d":1530,"e":0.855,"v":-0.6},{"d":1570,"e":0.855,"v":-1.8},{"d":1610,"e":0.855,"v":-1.65},{"d":1650,"e":0.855,"v":-1.3},{"d":1690,"e":0.855,"v":-0.95},{"d":1730,"e":0.855,"v":-0.9},{"d":1770,"e":0.855,"v":-1.5},
{"d":1010,"e":0.6,"v":-1.2},{"d":1050,"e":0.6,"v":-1.4},{"d":1090,"e":0.6,"v":-1.9},{"d":1130,"e":0.6,"v":-1.7},{"d":1170,"e":0.6,"v":-1.75},{"d":1210,"e":0.6,"v":-1.65},{"d":1250,"e":0.6,"v":-0.8},{"d":1290,"e":0.6,"v":-0.75},{"d":1330,"e":0.6,"v":-1.6},{"d":1370,"e":0.6,"v":-0.9},{"d":1410,"e":0.6,"v":-0.3},{"d":1450,"e":0.6,"v":0.1},{"d":1490,"e":0.6,"v":0},{"d":1530,"e":0.6,"v":-0.4},{"d":1570,"e":0.6,"v":-1.4},{"d":1610,"e":0.6,"v":-1.25},{"d":1650,"e":0.6,"v":-0.9},{"d":1690,"e":0.6,"v":-1.6},{"d":1730,"e":0.6,"v":-1.1},{"d":1770,"e":0.6,"v":-2},
{"d":1010,"e":0.345,"v":-1.15},{"d":1050,"e":0.345,"v":-1.3},{"d":1090,"e":0.345,"v":-1.65},{"d":1130,"e":0.345,"v":-1.55},{"d":1170,"e":0.345,"v":-1.55},{"d":1210,"e":0.345,"v":-1.2},{"d":1250,"e":0.345,"v":-0.75},{"d":1290,"e":0.345,"v":-0.65},{"d":1330,"e":0.345,"v":-1.1},{"d":1370,"e":0.345,"v":-0.3},{"d":1410,"e":0.345,"v":0},{"d":1450,"e":0.345,"v":0.5},{"d":1490,"e":0.345,"v":0.1},{"d":1530,"e":0.345,"v":-0.5},{"d":1570,"e":0.345,"v":-0.9},{"d":1610,"e":0.345,"v":-0.9},{"d":1650,"e":0.345,"v":-0.75},{"d":1690,"e":0.345,"v":-1.4},{"d":1730,"e":0.345,"v":-0.9},{"d":1770,"e":0.345,"v":-2.4},
{"d":1010,"e":0.09,"v":-1.1},{"d":1050,"e":0.09,"v":-1.15},{"d":1090,"e":0.09,"v":-1.8},{"d":1130,"e":0.09,"v":-1.7},{"d":1170,"e":0.09,"v":-1.7},{"d":1210,"e":0.09,"v":-1.6},{"d":1250,"e":0.09,"v":-0.6},{"d":1290,"e":0.09,"v":-1},{"d":1330,"e":0.09,"v":-1.3},{"d":1370,"e":0.09,"v":-0.3},{"d":1410,"e":0.09,"v":0.5},{"d":1450,"e":0.09,"v":1.3},{"d":1490,"e":0.09,"v":0.2},{"d":1530,"e":0.09,"v":-0.8},{"d":1570,"e":0.09,"v":-1.05},{"d":1610,"e":0.09,"v":-1},{"d":1650,"e":0.09,"v":-1},{"d":1690,"e":0.09,"v":-1.1},{"d":1730,"e":0.09,"v":-2.2},{"d":1770,"e":0.09,"v":-1.4}
],
"b2":[
{"d":1400,"e":0.05,"v":0.3},{"d":1495,"e":0.05,"v":0.3},{"d":1420,"e":0.03,"v":1},{"d":1480,"e":0.03,"v":1.3},{"d":1435,"e":0.03,"v":1.7},{"d":1465,"e":0.03,"v":1.8},{"d":1450,"e":0.03,"v":2.12},{"d":1430,"e":0.13,"v":1.2},{"d":1450,"e":0.13,"v":1.6},{"d":1470,"e":0.13,"v":1.5},{"d":1455,"e":0.25,"v":0.9},{"d":1475,"e":0.25,"v":0.8}
]
},
"hconcat":[
{"title":{"text":"(a)","orient":"bottom","anchor":"middle","font":"Liberation Serif","fontSize":78,"fontWeight":"bold","color":"#000000","offset":69,"dx":22},
 "resolve":{"scale":{"color":"independent"}},
 "vconcat":[
  {"width":1,"height":1,"view":{"stroke":null},"data":{"values":[{"k":0}]},"mark":{"type":"point","opacity":0},"encoding":{}},
  {"resolve":{"scale":{"color":"independent"}},"hconcat":[
   {"width":1245,"height":1270,
    "encoding":{"x":{"field":"d","type":"quantitative","title":"Distance (m)","scale":{"domain":[960.6,1823.6],"nice":false,"zero":false},"axis":{"values":[1000,1100,1200,1300,1400,1500,1600,1700,1800],"format":"d","titlePadding":22}},
     "y":{"field":"e","type":"quantitative","title":"Elevation (°)","scale":{"domain":[-0.2,5.22],"nice":false,"zero":false},"axis":{"values":[0,1,2,3,4,5],"format":"d","titlePadding":10}},
     "color":{"field":"v","type":"quantitative","legend":null,"scale":{"type":"linear","interpolate":"rgb","clamp":true,"domain":[-4.78,-4.178,-4.096,-2.92,-2.729,-2.045,-1.361,-1.224,0.088,0.198,0.69],"range":["#000080","#0000f1","#0000ff","#00d5ff","#16ffe1","#7cff79","#e4ff13","#fff000","#ff1500","#f10800","#800000"]}}},
    "layer":[
     {"data":{"name":"a"},"mark":{"type":"point","shape":"square","filled":true,"opacity":1,"size":3600}},
     {"data":{"name":"a"},"transform":[{"filter":"datum.d>1015 && datum.d<1765 && datum.e>0.1 && datum.e<4.9"}],"mark":{"type":"point","filled":true,"opacity":0.35,"size":9000}},
     {"data":{"name":"a2"},"mark":{"type":"point","filled":true,"opacity":0.85,"size":2000}}
    ]},
   {"width":58,"height":1270,"data":{"values":[{"lo":-4.78,"hi":0.69}]},
    "mark":{"type":"rect","fill":{"gradient":"linear","x1":0,"y1":1,"x2":0,"y2":0,"stops":[{"offset":0,"color":"#000080"},{"offset":0.11,"color":"#0000f1"},{"offset":0.125,"color":"#0000ff"},{"offset":0.34,"color":"#00d5ff"},{"offset":0.375,"color":"#16ffe1"},{"offset":0.5,"color":"#7cff79"},{"offset":0.625,"color":"#e4ff13"},{"offset":0.65,"color":"#fff000"},{"offset":0.89,"color":"#ff1500"},{"offset":0.91,"color":"#f10800"},{"offset":1,"color":"#800000"}]}},
    "encoding":{"y":{"field":"lo","type":"quantitative","title":"Velocity (m/s)","scale":{"domain":[-4.78,0.69],"nice":false,"zero":false},"axis":{"orient":"right","values":[-4,-3,-2,-1,0],"format":"d","titlePadding":10}},"y2":{"field":"hi"}},
    "view":{"stroke":"#111111","strokeWidth":3}}
  ]}
 ],"spacing":6},
{"title":{"text":"(b)","orient":"bottom","anchor":"middle","font":"Liberation Serif","fontSize":78,"fontWeight":"bold","color":"#000000","offset":79,"dx":11},
 "resolve":{"scale":{"color":"independent"}},
 "hconcat":[
   {"width":1245,"height":1271,
    "encoding":{"x":{"field":"d","type":"quantitative","title":"Distance (m)","scale":{"domain":[960.5,1823],"nice":false,"zero":false},"axis":{"values":[1000,1100,1200,1300,1400,1500,1600,1700,1800],"format":"d","titlePadding":22}},
     "y":{"field":"e","type":"quantitative","title":"Elevation (°)","scale":{"domain":[-0.223,5.223],"nice":false,"zero":false},"axis":{"values":[0,1,2,3,4,5],"format":"d","titlePadding":10}},
     "color":{"field":"v","type":"quantitative","legend":null,"scale":{"type":"linear","interpolate":"rgb","clamp":true,"domain":[-2.8,-2.259,-2.185,-1.127,-0.955,-0.34,0.275,0.398,1.579,1.677,2.12],"range":["#000080","#0000f1","#0000ff","#00d5ff","#16ffe1","#7cff79","#e4ff13","#fff000","#ff1500","#f10800","#800000"]}}},
    "layer":[
     {"data":{"name":"b"},"mark":{"type":"point","shape":"square","filled":true,"opacity":1,"size":3600}},
     {"data":{"name":"b"},"transform":[{"filter":"datum.d>1015 && datum.d<1765 && datum.e>0.1 && datum.e<4.9"}],"mark":{"type":"point","filled":true,"opacity":0.35,"size":9000}},
     {"data":{"name":"b2"},"mark":{"type":"point","filled":true,"opacity":0.85,"size":2000}}
    ]},
   {"width":58,"height":1271,"data":{"values":[{"lo":-2.8,"hi":2.12}]},
    "mark":{"type":"rect","fill":{"gradient":"linear","x1":0,"y1":1,"x2":0,"y2":0,"stops":[{"offset":0,"color":"#000080"},{"offset":0.11,"color":"#0000f1"},{"offset":0.125,"color":"#0000ff"},{"offset":0.34,"color":"#00d5ff"},{"offset":0.375,"color":"#16ffe1"},{"offset":0.5,"color":"#7cff79"},{"offset":0.625,"color":"#e4ff13"},{"offset":0.65,"color":"#fff000"},{"offset":0.89,"color":"#ff1500"},{"offset":0.91,"color":"#f10800"},{"offset":1,"color":"#800000"}]}},
    "encoding":{"y":{"field":"lo","type":"quantitative","title":"Velocity (m/s)","scale":{"domain":[-2.8,2.12],"nice":false,"zero":false},"axis":{"orient":"right","values":[-2,-1,0,1,2],"format":"d","titlePadding":10}},"y2":{"field":"hi"}},
    "view":{"stroke":"#111111","strokeWidth":3}}
 ]}
],"spacing":550}
